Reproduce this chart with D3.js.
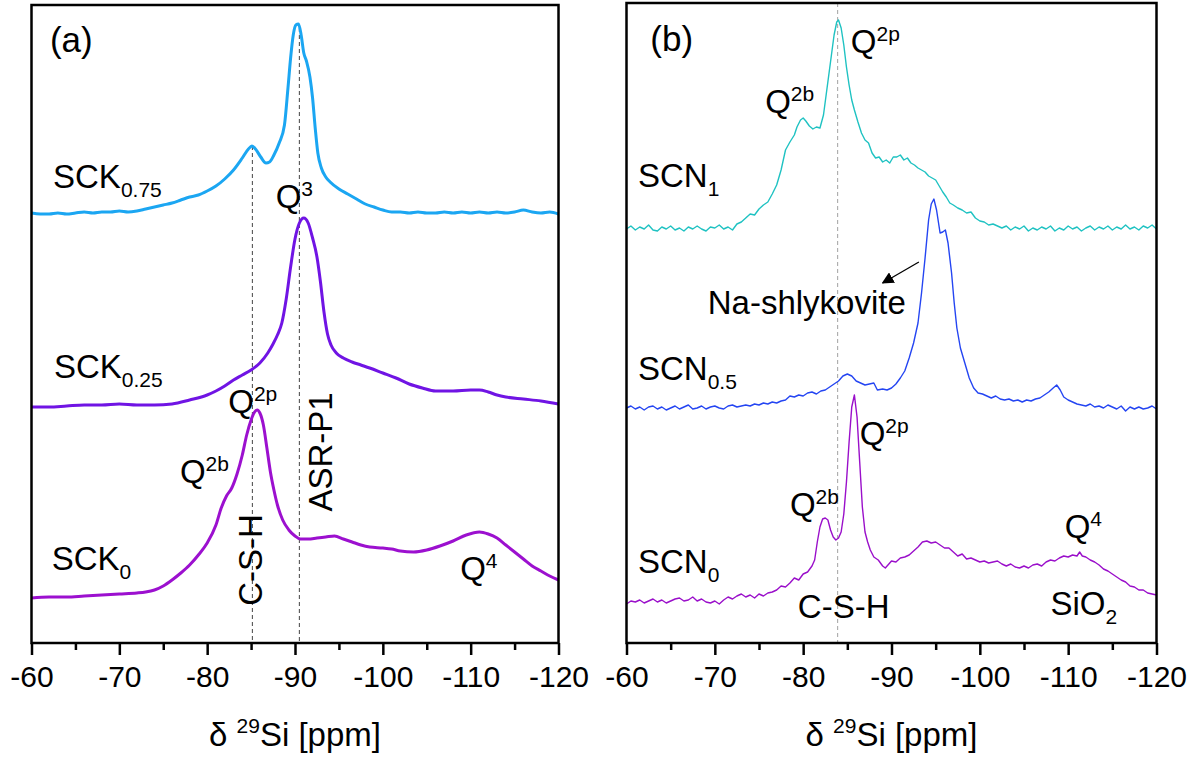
<!DOCTYPE html>
<html>
<head>
<meta charset="utf-8">
<script src="https://cdn.jsdelivr.net/npm/d3@7"></script>
<style>
  body { margin: 0; background: #fff; }
  text { font-family: Arial, "Liberation Sans", sans-serif; fill: #000; }
</style>
</head>
<body>
<svg id="chart" width="1202" height="762"></svg>
<script>
// axis ticks (ppm)
const majorTicks = [-60, -70, -80, -90, -100, -110, -120];
const minorTicks = [-65, -75, -85, -95, -105, -115];

// spectra: [ppm, intensity above own baseline] (a.u.)
const sck075 = [[-60,0],[-61,-1],[-62,-1],[-63,0],[-64,-1],[-65,0],[-66,1],[-67,0],[-68,1],[-69,1],[-70,2],[-71,1],[-72,2],[-73,4],[-74,6],[-75,8],[-76,10],[-77,13],[-78,16],[-79,18],[-80,22],[-81,27],[-82,34],[-83,43],[-84,55],[-84.7,64],[-85.1,67],[-85.5,64],[-86.1,56],[-86.7,50],[-87.1,51],[-87.6,58],[-88.2,70],[-88.8,88],[-89.2,125],[-89.5,155],[-89.8,178],[-90.1,188],[-90.4,189],[-90.7,178],[-91,160],[-91.3,152],[-91.7,136],[-92,115],[-92.3,85],[-92.6,60],[-93,45],[-93.5,36],[-94,31],[-95,24],[-96,19],[-97,14],[-98,9],[-99,6],[-100,3],[-101,1],[-102,1],[-103,0],[-104,1],[-105,0],[-106,0],[-107,1],[-108,0],[-109,1],[-110,0],[-111,1],[-112,0],[-113,1],[-114,0],[-115,1],[-116,3],[-117,1],[-118,0],[-119,1],[-120,-1]];
const sck025 = [[-60,0],[-62,0],[-64,1],[-66,2],[-68,2],[-70,3],[-72,2],[-74,2],[-76,3],[-78,7],[-80,12],[-81,16],[-82,21],[-83,27],[-84,32],[-85,37],[-86,44],[-86.9,54],[-87.5,63],[-88,72],[-88.5,84],[-89,108],[-89.5,140],[-90,168],[-90.5,184],[-91,189],[-91.5,184],[-92,169],[-92.5,150],[-92.9,125],[-93.3,95],[-93.7,73],[-94.1,62],[-94.7,54],[-95.5,49],[-96.5,45],[-97.5,42],[-98.5,39],[-100,34],[-101.5,29],[-103,23],[-104.5,19],[-106,16],[-108,16],[-110,17],[-111,17],[-112,15],[-113,12],[-114,10],[-116,8],[-118,6],[-120,3]];
const sck0 = [[-60,0],[-62,1],[-64,1],[-66,2],[-68,3],[-70,4],[-72,5],[-73,6],[-74,8],[-75,12],[-76,18],[-77,25],[-78,33],[-79,43],[-80,55],[-81,73],[-81.6,90],[-82.2,102],[-82.8,110],[-83.4,124],[-84,143],[-84.5,163],[-85,178],[-85.4,186],[-85.7,188],[-86,185],[-86.4,173],[-86.8,150],[-87.2,126],[-87.6,108],[-88,93],[-88.6,78],[-89.3,68],[-90,62],[-90.6,59],[-91.5,59],[-92.5,60],[-93.5,61],[-94.5,62],[-95.5,59],[-96.5,56],[-97.5,53],[-98.5,51],[-100,50],[-101,49],[-102,47],[-103.5,46],[-105,48],[-106.5,52],[-108,57],[-109.5,63],[-111,66],[-112,64],[-113,60],[-114,53],[-115,46],[-116,39],[-117,32],[-118,27],[-119,22],[-120,18]];

const scn1 = [[-60,-1],[-60.5,2],[-61,-2],[-61.5,1],[-62,-1],[-62.5,3],[-63,-2],[-63.5,-3],[-64,1],[-64.5,-1],[-65,2],[-65.5,-2],[-66,0],[-66.5,-3],[-67,1],[-67.5,-1],[-68,2],[-68.5,-1],[-69,-3],[-69.5,1],[-70,0],[-70.5,3],[-71,-1],[-71.5,1],[-72,-2],[-72.5,4],[-73,6],[-73.5,10],[-74,14],[-74.5,13],[-75,19],[-75.5,23],[-76,26],[-76.5,34],[-77,43],[-77.5,58],[-78,78],[-78.5,86],[-79,93],[-79.3,101],[-79.7,108],[-80,110],[-80.3,107],[-80.7,102],[-81.1,99],[-81.5,101],[-81.9,100],[-82.3,113],[-82.6,133],[-82.9,153],[-83.2,173],[-83.5,193],[-83.8,206],[-84,208],[-84.3,200],[-84.6,183],[-84.9,161],[-85.2,143],[-85.5,128],[-85.8,118],[-86.2,106],[-86.6,95],[-87,88],[-87.4,85],[-87.8,75],[-88.2,70],[-88.6,71],[-89,66],[-89.4,68],[-89.8,65],[-90.2,71],[-90.6,71],[-91,73],[-91.4,68],[-91.8,70],[-92.2,65],[-92.6,63],[-93,60],[-93.4,58],[-93.8,56],[-94.2,52],[-94.6,50],[-95,48],[-95.4,42],[-95.8,36],[-96.2,31],[-96.6,25],[-97,23],[-97.5,20],[-98,18],[-98.5,15],[-99,16],[-99.5,10],[-100,7],[-100.5,6],[-101,3],[-101.5,4],[-102,2],[-102.5,0],[-103,2],[-103.5,-2],[-104,1],[-104.5,-1],[-105,2],[-105.5,-3],[-106,0],[-106.5,-2],[-107,1],[-107.5,-1],[-108,2],[-108.5,-3],[-109,0],[-109.5,-2],[-110,2],[-110.5,-1],[-111,1],[-111.5,-3],[-112,0],[-112.5,2],[-113,-2],[-113.5,1],[-114,-1],[-114.5,2],[-115,-2],[-115.5,1],[-116,-1],[-116.5,3],[-117,-1],[-117.5,1],[-118,-2],[-118.5,2],[-119,0],[-119.5,3],[-120,-1]];
const scn05 = [[-60,0],[-60.5,2],[-61,-1],[-61.5,1],[-62,-2],[-62.5,1],[-63,2],[-63.5,-1],[-64,1],[-64.5,-2],[-65,0],[-65.5,2],[-66,-1],[-66.5,1],[-67,3],[-67.5,-1],[-68,0],[-68.5,2],[-69,-1],[-69.5,1],[-70,2],[-70.5,0],[-71,-1],[-71.5,2],[-72,3],[-72.5,1],[-73,2],[-73.5,3],[-74,2],[-74.5,4],[-75,3],[-75.5,5],[-76,4],[-76.5,6],[-77,5],[-77.5,7],[-78,8],[-78.5,12],[-79,11],[-79.5,13],[-80,12],[-80.5,15],[-81,16],[-81.5,14],[-82,17],[-82.5,18],[-83,21],[-83.5,24],[-84,27],[-84.5,32],[-85,34],[-85.5,32],[-86,27],[-86.5,25],[-87,23],[-87.5,24],[-88,25],[-88.4,18],[-89,19],[-89.5,18],[-90,20],[-90.5,24],[-91,30],[-91.5,37],[-92,50],[-92.5,65],[-93,85],[-93.4,115],[-93.8,150],[-94.2,188],[-94.5,204],[-94.8,209],[-95.1,198],[-95.5,175],[-95.8,176],[-96.1,178],[-96.4,165],[-96.8,135],[-97.1,105],[-97.4,80],[-97.8,60],[-98.3,45],[-98.8,30],[-99.3,20],[-99.8,15],[-100.3,14],[-100.8,12],[-101.3,10],[-101.8,12],[-102.3,9],[-102.8,8],[-103.3,9],[-103.8,7],[-104.3,8],[-104.8,6],[-105.3,8],[-105.8,7],[-106.3,9],[-106.8,10],[-107.3,13],[-107.8,16],[-108.3,20],[-108.7,23],[-109.1,18],[-109.5,11],[-110,8],[-110.5,6],[-111,4],[-111.5,3],[-112,2],[-112.5,4],[-113,1],[-113.5,2],[-114,0],[-114.5,3],[-115,1],[-115.5,-1],[-116,2],[-116.5,-3],[-117,1],[-117.5,-1],[-118,1],[-118.5,-1],[-119,0],[-119.5,2],[-120,-1]];
const scn0 = [[-60,-2],[-60.5,1],[-61,0],[-61.5,2],[-62,-1],[-62.5,1],[-63,3],[-63.5,0],[-64,2],[-64.5,-1],[-65,1],[-65.5,3],[-66,4],[-66.5,1],[-67,2],[-67.5,5],[-68,1],[-68.5,3],[-69,0],[-69.5,-1],[-70,1],[-70.5,-2],[-71,2],[-71.5,5],[-72,3],[-72.5,6],[-73,8],[-73.5,5],[-74,7],[-74.5,4],[-75,8],[-75.5,6],[-76,9],[-76.5,10],[-77,12],[-77.5,16],[-78,15],[-78.5,19],[-79,24],[-79.5,22],[-80,28],[-80.5,30],[-81,36],[-81.3,42],[-81.6,60],[-81.9,75],[-82.2,83],[-82.5,84],[-82.8,82],[-83.1,72],[-83.4,65],[-83.7,62],[-84,64],[-84.3,70],[-84.6,88],[-84.9,120],[-85.2,160],[-85.5,195],[-85.8,207],[-86.1,185],[-86.4,140],[-86.7,95],[-87,70],[-87.3,60],[-87.6,52],[-88,45],[-88.5,42],[-89,36],[-89.3,34],[-89.7,38],[-90,41],[-90.5,40],[-91,44],[-91.5,45],[-92,47],[-92.5,51],[-93,55],[-93.5,60],[-94,61],[-94.5,59],[-95,60],[-95.5,57],[-96,54],[-96.5,54],[-97,50],[-97.5,46],[-98,48],[-98.5,43],[-99,44],[-99.5,42],[-100,40],[-100.5,41],[-101,39],[-101.5,40],[-102,41],[-102.5,38],[-103,36],[-103.5,38],[-104,35],[-104.5,34],[-105,36],[-105.5,34],[-106,37],[-106.5,38],[-107,36],[-107.5,40],[-108,42],[-108.5,41],[-109,44],[-109.5,46],[-110,45],[-110.5,47],[-111,46],[-111.3,50],[-111.6,46],[-112,45],[-112.5,42],[-113,40],[-113.5,37],[-114,33],[-114.5,31],[-115,28],[-115.5,25],[-116,22],[-116.5,20],[-117,16],[-117.5,15],[-118,12],[-118.5,12],[-119,9],[-119.5,8],[-120,7]];

// stacking offsets of each trace (a.u.)
const namesA = ["SCK0.75", "SCK0.25", "SCK0"];
const offsetsA = [430, 236, 45];
const namesB = ["SCN1", "SCN0.5", "SCN0"];
const offsetsB = [415, 235, 41];

// dashed reference lines: ppm and upper end (a.u.)
const refA = [[-85.15, 497], [-90.5, 615]];
const refB = [[-83.9, 640]];

const colorsA = ["#1ba6f2", "#7014e4", "#9c10cf"];
const colorsB = ["#1fc2c2", "#2445f2", "#9a0fca"];

// annotations placed in data coordinates
const annotA = [
  { ppm: -62.1, v: 591, text: "(a)", size: 35 },
  { ppm: -62.45, v: 455, text: "SCK", sub: "0.75" },
  { ppm: -87.8, v: 435, text: "Q", sup: "3" },
  { ppm: -62.56, v: 265, text: "SCK", sub: "0.25" },
  { ppm: -82.4, v: 230, text: "Q", sup: "2p" },
  { ppm: -76.9, v: 160, text: "Q", sup: "2b" },
  { ppm: -62.3, v: 73, text: "SCK", sub: "0" },
  { ppm: -108.8, v: 63, text: "Q", sup: "4" },
  { ppm: -86.2, v: 83, text: "C-S-H", rotate: true },
  { ppm: -94.2, v: 191, text: "ASR-P1", rotate: true }
];
const annotB = [
  { ppm: -62.7, v: 592, text: "(b)", size: 35 },
  { ppm: -61.3, v: 456, text: "SCN", sub: "1" },
  { ppm: -75.7, v: 530, text: "Q", sup: "2b" },
  { ppm: -85.4, v: 590, text: "Q", sup: "2p" },
  { ppm: -69.2, v: 329, text: "Na-shlykovite" },
  { ppm: -61.3, v: 263, text: "SCN", sub: "0.5" },
  { ppm: -86.4, v: 198, text: "Q", sup: "2p" },
  { ppm: -78.5, v: 127, text: "Q", sup: "2b" },
  { ppm: -61.3, v: 70, text: "SCN", sub: "0" },
  { ppm: -79.4, v: 25, text: "C-S-H" },
  { ppm: -109.6, v: 105, text: "Q", sup: "4" },
  { ppm: -108.0, v: 28, text: "SiO", sub: "2" }
];
// arrow to Na-shlykovite: [ppm, a.u.] start and end
const arrowB = [[-93.1, 381], [-89.0, 360]];

const svg = d3.select("#chart");
const plotBottom = 643;
const yScale = d3.scaleLinear().domain([0, 640]).range([plotBottom, 3]);

svg.append("defs").append("marker")
  .attr("id", "arrow")
  .attr("viewBox", "0 0 10 10")
  .attr("refX", 9).attr("refY", 5)
  .attr("markerWidth", 12).attr("markerHeight", 12)
  .attr("markerUnits", "userSpaceOnUse")
  .attr("orient", "auto")
  .append("path").attr("d", "M0,0 L10,5 L0,10 Z").attr("fill", "#000");

function addLabel(g, x, a) {
  const px = x(a.ppm), py = yScale(a.v);
  const t = g.append("text")
    .attr("x", px).attr("y", py)
    .attr("font-size", a.size || 33);
  if (a.rotate) {
    t.attr("text-anchor", "middle").attr("transform", `rotate(-90 ${px} ${py})`);
  }
  t.append("tspan").text(a.text);
  if (a.sup) t.append("tspan").attr("font-size", 21).attr("dy", -12).text(a.sup);
  if (a.sub) t.append("tspan").attr("font-size", 21).attr("dy", 9).text(a.sub);
}

function drawPanel(box, data, names, offsets, colors, refs, annots, opts) {
  const x = d3.scaleLinear().domain([-60, -120]).range([box.left, box.right]);
  const g = svg.append("g");

  // dashed reference lines
  refs.forEach(r => {
    g.append("line")
      .attr("x1", x(r[0])).attr("x2", x(r[0]))
      .attr("y1", yScale(r[1])).attr("y2", plotBottom)
      .attr("stroke", opts.refColor)
      .attr("stroke-width", 1.1)
      .attr("stroke-dasharray", "4,3");
  });

  // spectra
  data.forEach((d, i) => {
    const line = d3.line()
      .x(p => x(p[0]))
      .y(p => yScale(p[1] + offsets[i]))
      .curve(opts.curve);
    g.append("path")
      .datum(d)
      .attr("d", line)
      .attr("fill", "none")
      .attr("stroke", colors[i])
      .attr("stroke-width", opts.lineWidth)
      .attr("stroke-linejoin", "round")
      .attr("class", "trace-" + names[i]);
  });

  // frame
  g.append("rect")
    .attr("x", box.left).attr("y", box.top)
    .attr("width", box.right - box.left)
    .attr("height", plotBottom - box.top)
    .attr("fill", "none")
    .attr("stroke", "#000")
    .attr("stroke-width", 2.5);

  // x axis, major and minor ticks
  const major = g.append("g")
    .attr("transform", `translate(0,${plotBottom})`)
    .call(d3.axisBottom(x).tickValues(majorTicks).tickSize(12).tickPadding(11).tickFormat(d => String(d)));
  major.select(".domain").remove();
  major.selectAll("line").attr("stroke", "#000").attr("stroke-width", 2.5);
  major.selectAll("text").attr("font-size", 30).attr("font-family", "Arial, 'Liberation Sans', sans-serif").attr("fill", "#000");

  const minor = g.append("g")
    .attr("transform", `translate(0,${plotBottom})`)
    .call(d3.axisBottom(x).tickValues(minorTicks).tickSize(7).tickFormat(""));
  minor.select(".domain").remove();
  minor.selectAll("line").attr("stroke", "#000").attr("stroke-width", 2.5);

  // axis title
  const title = g.append("text")
    .attr("x", (box.left + box.right) / 2)
    .attr("y", 746)
    .attr("text-anchor", "middle")
    .attr("font-size", 33);
  title.append("tspan").text("\u03b4 ");
  title.append("tspan").attr("font-size", 21).attr("dy", -13).text("29");
  title.append("tspan").attr("dy", 13).text("Si [ppm]");

  annots.forEach(a => addLabel(g, x, a));
  return x;
}

drawPanel({ left: 31.5, right: 558.5, top: 5 },
  [sck075, sck025, sck0], namesA, offsetsA, colorsA, refA, annotA,
  { curve: d3.curveMonotoneX, lineWidth: 3, refColor: "#555" });

const xB = drawPanel({ left: 626.5, right: 1156.5, top: 3 },
  [scn1, scn05, scn0], namesB, offsetsB, colorsB, refB, annotB,
  { curve: d3.curveLinear, lineWidth: 1.4, refColor: "#aaa" });

svg.append("line")
  .attr("x1", xB(arrowB[0][0])).attr("y1", yScale(arrowB[0][1]))
  .attr("x2", xB(arrowB[1][0])).attr("y2", yScale(arrowB[1][1]))
  .attr("stroke", "#000").attr("stroke-width", 1.3)
  .attr("marker-end", "url(#arrow)");
</script>
</body>
</html>
